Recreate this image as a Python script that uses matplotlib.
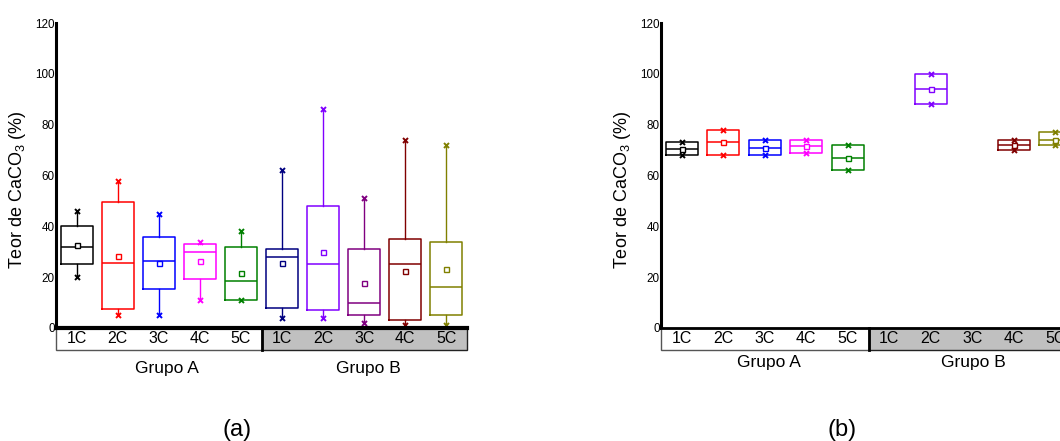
import matplotlib
matplotlib.use("Agg")
import matplotlib.pyplot as plt
from matplotlib.patches import Rectangle

plt.rcParams['font.family'] = ['Liberation Sans', 'DejaVu Sans']
plt.rcParams['mathtext.default'] = 'regular'

# ---- data -------------------------------------------------------------
categories = ["1C", "2C", "3C", "4C", "5C", "1C", "2C", "3C", "4C", "5C"]
groups = ["Grupo A", "Grupo B"]
colors = ["#000000", "#FF0000", "#0000FF", "#FF00FF", "#008000",
          "#000080", "#8000FF", "#800080", "#800000", "#808000"]
yticks = [0, 20, 40, 60, 80, 100, 120]

# panel (a): minimum, Q1, median, Q3, maximum, mean
a_min = [20, 5, 5, 11, 11, 4, 4, 2, 1, 1]
a_q1 = [25, 7.5, 15.3, 19.4, 11, 7.9, 7, 5, 3, 5]
a_med = [32, 25.6, 26.4, 30, 18.5, 28, 25, 10, 25, 16]
a_q3 = [40, 49.6, 36, 33, 32, 31, 48, 31, 35, 34]
a_max = [46, 58, 45, 34, 38, 62, 86, 51, 74, 72]
a_mean = [32.5, 28.5, 25.7, 26.2, 21.5, 25.6, 30, 17.6, 22.4, 23.2]

# panel (b): only the sampled categories (1-based positions)
b_pos = [1, 2, 3, 4, 5, 7, 9, 10]
b_min = [68, 68, 68, 69, 62, 88, 70, 72]
b_q1 = [68, 68, 68, 69, 62, 88, 70, 72]
b_med = [70.3, 73, 71, 71.5, 67, 94, 72, 74]
b_q3 = [73, 78, 74, 74, 72, 100, 74, 77]
b_max = [73, 78, 74, 74, 72, 100, 74, 77]
b_mean = [70.6, 73, 71, 71.5, 67, 94, 72, 74]

W, H = 1060, 441
fig = plt.figure(figsize=(W / 100, H / 100), dpi=100)


def draw_panel(ax, pos, mins, q1, med, q3, maxs, mean, whiskers, bottom_lw):
    stats = []
    for i in range(len(pos)):
        stats.append(dict(med=med[i], q1=q1[i], q3=q3[i],
                          whislo=mins[i] if whiskers else q1[i],
                          whishi=maxs[i] if whiskers else q3[i],
                          mean=mean[i], fliers=[]))
    art = ax.bxp(stats, positions=pos, widths=0.78, showcaps=False,
                 showfliers=False, showmeans=True, patch_artist=False,
                 manage_ticks=False)
    for i, p in enumerate(pos):
        c = colors[p - 1]
        art['boxes'][i].set(color=c, linewidth=1.1)
        art['medians'][i].set(color=c, linewidth=1.1)
        for w in art['whiskers'][2 * i:2 * i + 2]:
            w.set(color=c, linewidth=1.0)
        art['means'][i].set(marker='s', markerfacecolor='white',
                            markeredgecolor=c, markersize=3.6,
                            markeredgewidth=1.0)
        ax.plot([p, p], [mins[i], maxs[i]], linestyle='none', marker='x',
                color=c, markersize=3.6, markeredgewidth=1.4, zorder=4)

    ax.set_xlim(0.5, 10.5)
    ax.set_ylim(0, 120)
    ax.set_yticks(yticks)
    ax.set_xticks([])
    ax.tick_params(axis='y', length=0, pad=1, labelsize=8.4)
    for s in ('top', 'right'):
        ax.spines[s].set_visible(False)
    ax.spines['left'].set_linewidth(2.2)
    ax.spines['bottom'].set_linewidth(bottom_lw)
    ax.spines['bottom'].set_zorder(6)

    # category strip under the axis
    band = -8.6
    ax.add_patch(Rectangle((0.5, band), 5, -band, facecolor='white',
                           edgecolor='#555555', linewidth=1.0,
                           clip_on=False, zorder=3))
    ax.add_patch(Rectangle((5.5, band), 5, -band, facecolor='#c0c0c0',
                           edgecolor='#222222', linewidth=1.0,
                           clip_on=False, zorder=3))
    ax.plot([5.5, 5.5], [band, 0], color='black', linewidth=2.0,
            clip_on=False, zorder=4)
    for i, lab in enumerate(categories):
        ax.text(i + 1, band / 2, lab, ha='center', va='center',
                fontsize=11.5, zorder=5, clip_on=False)

    ax.set_ylabel("Teor de CaCO$_3$ (%)", fontsize=13)


ax_a = fig.add_axes([56 / W, 113 / H, 411 / W, 305 / H])
draw_panel(ax_a, list(range(1, 11)), a_min, a_q1, a_med, a_q3, a_max,
           a_mean, True, 3.0)
ax_a.yaxis.set_label_coords((28 - 56) / 411, 0.455)

ax_b = fig.add_axes([661 / W, 113 / H, 415 / W, 305 / H])
draw_panel(ax_b, b_pos, b_min, b_q1, b_med, b_q3, b_max, b_mean,
           False, 2.0)
ax_b.yaxis.set_label_coords((633 - 661) / 415, 0.455)

# group captions and panel letters (pixel positions from the top-left)
def fig_text(x, y, s, size):
    fig.text(x / W, 1 - y / H, s, ha='center', va='center', fontsize=size)

fig_text(167, 368, groups[0], 12.5)
fig_text(368, 368, groups[1], 12.5)
fig_text(769, 363, groups[0], 12.5)
fig_text(973, 363, groups[1], 12.5)
fig_text(237, 430, "(a)", 17)
fig_text(842, 430, "(b)", 17)

fig.savefig("out.png", dpi=100)
